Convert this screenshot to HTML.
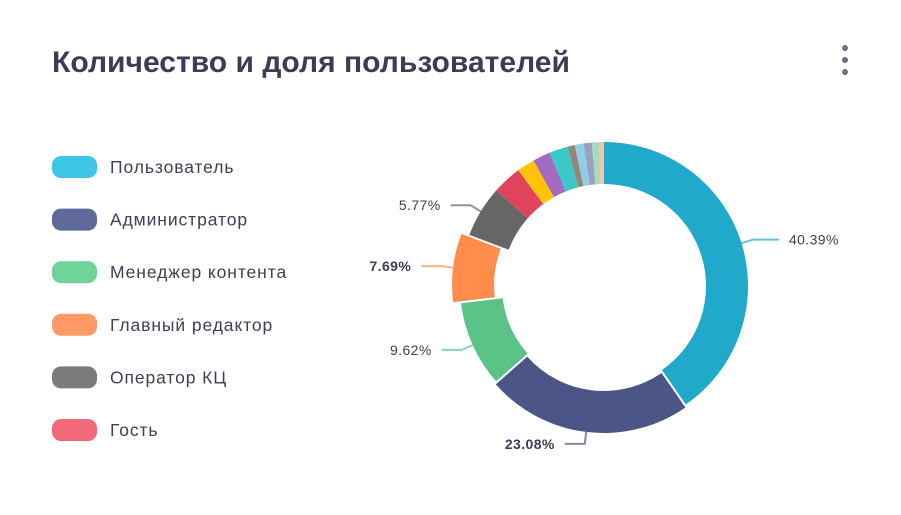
<!DOCTYPE html>
<html><head><meta charset="utf-8">
<style>
body{margin:0;background:#fff;width:901px;height:510px;overflow:hidden;font-family:"Liberation Sans",sans-serif;}
</style></head>
<body>
<svg width="901" height="510" viewBox="0 0 901 510" xmlns="http://www.w3.org/2000/svg">
<text x="52" y="72" font-size="30" font-weight="bold" fill="#3a3d55" textLength="518" lengthAdjust="spacingAndGlyphs">Количество и доля пользователей</text>
<g fill="#6b6f80">
<circle cx="845" cy="48" r="3"/><circle cx="845" cy="60" r="3"/><circle cx="845" cy="72" r="3"/>
</g>
<g id="legend"></g>
<g id="donut"></g>
<g id="labels"></g>
</svg>
<script>
const categories=["Пользователь","Администратор","Менеджер контента","Главный редактор","Оператор КЦ","Гость","Роль 7","Роль 8","Роль 9","Роль 10","Роль 11","Роль 12","Роль 13","Роль 14"];
const values=[40.39,23.08,9.62,7.69,5.77,3.3,2.0,2.0,2.1,0.8,1.0,0.9,0.8,0.55];
const colors=["#21a9cc","#4b5588","#5bc288","#ff8c4a","#666666","#e0445a","#ffc30a","#a36ac0","#3ac8c8","#9a8574","#8ccfe6","#9aa0c0","#a4dcc0","#ffbfa0"];
const legendColors=["#3ec6e6","#5f6a9a","#6fd39a","#ff9966","#7c7c7c","#f26a7a"];
const popOut=[0,3,0,8,0,0,0,0,0,0,0,0,0,0];
const labelIdx=[0,1,2,3,4];
const labelText=["40.39%","23.08%","9.62%","7.69%","5.77%"];
const boldLabel=[false,true,false,true,false];

const NS="http://www.w3.org/2000/svg";
const cx=604,cy=286,R=144,r=102;
const total=values.reduce((a,b)=>a+b,0);
function pt(a,rad,ox,oy){return [cx+ox+rad*Math.sin(a),cy+oy-rad*Math.cos(a)];}
const donut=document.getElementById('donut');
let acc=0;const mids=[];
values.forEach((v,i)=>{
 const a0=acc/total*2*Math.PI;acc+=v;const a1=acc/total*2*Math.PI;
 const am=(a0+a1)/2;mids.push(am);
 const pop=popOut[i];
 const ox=pop*Math.sin(am),oy=-pop*Math.cos(am);
 const p1=pt(a0,R,ox,oy),p2=pt(a1,R,ox,oy),p3=pt(a1,r,ox,oy),p4=pt(a0,r,ox,oy);
 const lg=(a1-a0)>Math.PI?1:0;
 const p=document.createElementNS(NS,'path');
 p.setAttribute('d',`M${p1[0]},${p1[1]}A${R},${R} 0 ${lg} 1 ${p2[0]},${p2[1]}L${p3[0]},${p3[1]}A${r},${r} 0 ${lg} 0 ${p4[0]},${p4[1]}Z`);
 p.setAttribute('fill',colors[i]);
 
 
 donut.appendChild(p);
});
const lab=document.getElementById('labels');
labelIdx.forEach((i,k)=>{
 const am=mids[i];const ex=popOut[i];
 const s=pt(am,R+ex,0,0),m=pt(am,R+ex+12,0,0);
 const right=Math.sin(am)>=0;
 const e=[m[0]+(right?26:-20),m[1]];
 const l=document.createElementNS(NS,'polyline');
 l.setAttribute('points',`${s[0]},${s[1]} ${m[0]},${m[1]} ${e[0]},${e[1]}`);
 l.setAttribute('fill','none');l.setAttribute('stroke',colors[i]);l.setAttribute('stroke-width','2');l.setAttribute('opacity','0.7');
 
 
 lab.appendChild(l);
 const t=document.createElementNS(NS,'text');
 t.setAttribute('x',e[0]+(right?10:-10));t.setAttribute('y',e[1]+5);
 t.setAttribute('text-anchor',right?'start':'end');
 t.setAttribute('font-size','14');t.setAttribute('fill','#3a3d55');t.setAttribute('letter-spacing','0.4');
 if(boldLabel[k])t.setAttribute('font-weight','bold');
 t.textContent=labelText[k];
 
 
 lab.appendChild(t);
});
const leg=document.getElementById('legend');
legendColors.forEach((c,i)=>{
 const y=167+i*52.6;
 const g=document.createElementNS(NS,'g');
 
 
 const rc=document.createElementNS(NS,'rect');
 rc.setAttribute('x',52);rc.setAttribute('y',y-11);rc.setAttribute('width',45);rc.setAttribute('height',22);rc.setAttribute('rx',9);rc.setAttribute('fill',c);
 g.appendChild(rc);
 const t=document.createElementNS(NS,'text');
 t.setAttribute('x',110);t.setAttribute('y',y+6);t.setAttribute('font-size','17.5');t.setAttribute('fill','#3d4056');t.setAttribute('letter-spacing','0.9');
 t.textContent=categories[i];
 g.appendChild(t);
 leg.appendChild(g);
});
</script>
</body></html>
